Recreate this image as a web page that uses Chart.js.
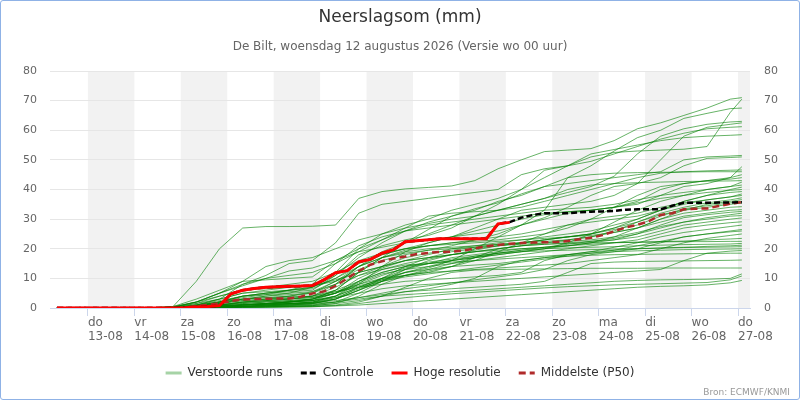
<!DOCTYPE html>
<html>
<head>
<meta charset="utf-8">
<script src="https://cdn.jsdelivr.net/npm/chart.js@4.4.1/dist/chart.umd.min.js"></script>
<style>
body{margin:0;background:#fff;}
#wrap{position:relative;width:800px;height:400px;}
#rand{position:absolute;left:0;top:0;width:800px;height:400px;box-sizing:border-box;border:1px solid #8fb2e6;border-radius:3px;pointer-events:none;}
</style>
</head>
<body>
<div id="wrap">
<canvas id="plume" width="800" height="400"></canvas>
<div id="rand"></div>
</div>
<script>
// uren sinds wo 12-08 00:00
const tickUren = [24,48,72,96,120,144,168,192,216,240,264,288,312,336,360];
const dagNamen = ["do","vr","za","zo","ma","di","wo","do","vr","za","zo","ma","di","wo","do"];
const datums = ["13-08","14-08","15-08","16-08","17-08","18-08","19-08","20-08","21-08","22-08","23-08","24-08","25-08","26-08","27-08"];

// tijdstappen verstoorde runs
const uren = [8,56,68,80,92,104,116,128,140,152,164,176,188,200,212,224,236,248,260,272,284,296,308,320,332,344,356,362];

// tijdstappen controle / hoge resolutie / middelste (6-uurlijks)
const uren6 = [8,14,20,26,32,38,44,50,56,62,68,74,80,86,92,98,104,110,116,122,128,134,140,146,152,158,164,170,176,182,188,194,200,206,212,218,224,230,236,242,248,254,260,266,272,278,284,290,296,302,308,314,320,326,332,338,344,350,356,362];

const hogeResolutie = [0,0,0,0,0,0,0,0,0,0,0,0.1,0.3,0.5,0.8,4.8,6.0,6.6,7.0,7.2,7.3,7.4,7.6,9.5,11.9,12.6,15.6,16.4,18.5,19.7,22.4,22.7,23.0,23.4,23.4,23.4,23.4,23.4,28.4,28.9];

const controle = [0,0,0,0,0,0,0,0,0,0,0,0.1,0.3,0.5,0.8,4.8,6.0,6.6,7.0,7.2,7.3,7.4,7.6,9.5,11.9,12.6,15.6,16.4,18.5,19.7,22.4,22.7,23.0,23.4,23.4,23.4,23.4,23.4,28.4,29.0,30.5,31.4,32.0,32.0,32.0,32.3,32.5,32.6,32.8,33.2,33.3,33.3,33.3,34.5,35.5,35.5,35.5,35.6,35.6,35.7];

const middelste = [0,0,0,0,0,0,0,0,0,0,0,0.2,0.6,1.1,1.6,2.4,2.9,3.0,3.1,3.2,3.2,3.8,4.9,5.6,7.5,10.0,12.5,14.6,15.8,16.7,17.4,18.2,18.6,18.9,19.0,19.4,20.1,20.8,21.3,21.7,21.9,22.1,22.2,22.3,22.6,23.2,23.7,24.6,25.9,27.2,28.1,29.3,31.4,32.0,33.3,33.5,33.6,34.4,35.2,35.7];

const verstoordeRuns = [
[0,0,0.5,9,20,27,27.5,27.5,27.6,28,37,39.3,40.2,40.7,41.2,43,47,50,52.8,53.3,53.8,56.5,60.5,62.5,65,67.5,70.5,71],
[0,0,0,0.5,2,4,5,6,7,12,20,25,28,30,33,35,37,40,44,48,51,52.5,53,53.3,53.6,54.5,66,70.5],
[0,0,0,0.3,1.5,3,4,5,7,11,17,22,26,29,31,33,36,38,41,44,48,53,57.5,60,64,65.7,67.3,67.5],
[0,0,0.2,2,5,9,14,16,17,20,23,25,27,28.5,30,31,33,35,37,39,41,44.5,52,58,60.5,62,62.8,63],
[0,0,0,0.5,1,2,2.5,3,4,8,14,18,20,22,24,27,30,33,34,35,36,38,42,50,58,61,62,62.5],
[0,0,0.3,2,5,8,11,15,16,22,32,35,36,37,38,39,40,45,47,48,49.5,52,54.5,57,59,60.5,61,61.2],
[0,0,0,0.5,2,4,5,5.5,6,11,18,21,23,24.5,27,31,35,40,46.5,48,52,53.5,55,56.5,57.5,58,58.3,58.5],
[0,0,0,0,0.5,1,1.5,2,3,6,12,17,22,26.5,31,33.5,35.5,38.5,41,42,43,44,45,46,50,51,51.3,51.5],
[0,0,0.2,1,3,8,10,12.5,13.5,16,19,20.5,22,23,24,25,26,28,30.5,34,38,41,42,44,48,50.5,50.8,51],
[0,0,0,0,0.5,1,1.2,1.5,2,4,8,14,19,22,24,26,28,30,31.5,32.5,33,34,35,38,41,42,44,47.7],
[0,0,0.5,3,6,9,9.5,10,10.5,16,20,23,27,31,32,32.5,33,34,36,38,40,42,44,45.5,46,46.3,46.5,46.6],
[0,0,0,0.2,1,2,3,4,5.5,9,13,16,18,19.5,21,23,25,28,33,44,45,45.5,45.7,45.8,45.9,46,46,46],
[0,0,0,0,0.2,0.5,0.7,1,1.5,3,7,10,12,13.5,16,20,24,28,30,32,33,34,36,40,42,43,44,45],
[0,0,0.3,1.5,4,6,7,8,9,12,16,18.5,20,21,22,22.5,23,24,25,27,30,34,38,41,42,43,43.5,44],
[0,0,0,0.5,1.5,3,4,4.5,5,8,14,19,22,25,28,31,33,35,37,40,41.5,42,42.3,42.5,42.7,42.8,42.9,43],
[0,0,0,0.3,0.8,1.5,2,2.5,3,5,9,12,14,15,16,17,18,19,20,22,25,29,33,36,38,40,41,42.5],
[0,0,0.3,2,5,7.5,10,11,12,15,19,23,26,28,29,30,31,32,33,33.5,34,35,36.5,38,39,40,41,41.5],
[0,0,0,0,0.5,1,1.5,2,2.5,5,10,13.5,16,18,20,21,22,23,24,25,26,28,30,33,36,38,40,40.8],
[0,0,0,1,2,3.5,4.5,6,8,15,21,24,26,27,28,29,30,31,32,32.5,33,34,35.5,37,38,39,39.7,40],
[0,0,0,0.2,0.5,1,1.5,2,3,6,12,17,19,20,20.5,21,21.5,22,23,24,25,27,30,33,36,38,39,39.3],
[0,0,0,0.5,2,4,5,6,7,10,14,17,19.5,21,22,23,24,25,26.5,28,29,30,31,33,35,36.5,37.5,38.5],
[0,0,0,0,0.3,0.6,1,1.2,1.5,3,6,9,11,12.5,14,16,19,22,25,28,30,31,32,34,35.5,36.5,37.5,38],
[0,0,0,1,3,5,6,7,7.5,9.5,12,14,16,17,18,19,20,21,22,23,24,26,29,32,34,35.5,36.5,37.2],
[0,0,0,0.3,1,2,2.5,3,4,7,11,14,17,18.5,19.5,20.5,21.5,22,22.5,23,24,25.5,27,30,33,35,36,36.6],
[0,0,0,0,0.2,0.5,1,1.5,2,4,9,13,15,16.5,18,19.5,21,22,23,24,25,26.5,28,31,33.5,34.5,35.5,36],
[0,0,0,0.8,2,3,3.5,4,5,9,14,17,18.5,19.5,20,20.5,21,22,23,24,25,27,29,31.5,33,34,35,35.4],
[0,0,0,0,0.5,1,1.5,2,2.5,4,7,10,13,15,17,18,19,20,20.5,21,22,24,27,30,32,33,34,34.2],
[0,0,0.2,1.5,3,5,5.5,6,6.5,10,15,18,20,21,21.5,22,22.5,23,23.5,24,24.5,25.5,27,29,31,32,33,33.2],
[0,0,0,0.2,0.6,1.2,1.5,2,3,5,8,11,13.5,15,16,17,18,19,20,21,22,23,25,28,30.5,31.5,32.3,32.6],
[0,0,0,0.5,1.5,2.5,3,3.5,4,6,9,12,14,15.5,16.5,17.5,18.5,19.5,20.5,21.5,22.5,23.5,25,27,29,30.5,31.5,32],
[0,0,0,0,0.2,0.5,0.8,1,1.5,3,6,10,14,17,19,20,21,21.5,22,22.5,23,24,25.5,27.5,29,30,31,31.2],
[0,0,0.5,2,4,6,6.5,7,7.5,9,12,14,16,17,18,19,20,21,21.5,22,22.5,23,24,26,28,29,30,30.4],
[0,0,0,0.3,1,1.8,2.2,2.5,3,5,8.5,11.5,13,14,15,16,17,18,19,20,21,22,23,25,27,28,28.8,29.1],
[0,0,0,0,0.3,0.6,1,1.3,1.8,3.5,6.5,9.5,12,13,14,14.5,15,16,17,18,19,20.5,22,24,25.5,26.5,27.5,28],
[0,0,0,1,2.5,4,4.5,5,5.5,8,11,13,14.5,15,15.5,16,16.5,17,17.5,18,18.5,19,20,22,24,25,26,26.5],
[0,0,0,0.2,0.6,1,1.5,2,2.5,4,7,9,10.5,11.5,12.5,13.5,14.5,15.5,16.5,17.5,18.5,19.5,21,22.5,24,25,25.7,26],
[0,0,0,0.5,1,2,2.5,3,3.5,5.5,8,10,11,12,12.5,13,13.5,14,14.5,15,16,17,18,20,22,23.5,24.5,25],
[0,0,0,0,0.2,0.4,0.6,0.8,1,2,5,9,13,16,18,19,19.5,20,20.5,21,21.5,22,22.2,22.4,22.6,23,23.3,23.5],
[0,0,0,0.5,1.5,2.5,3,3.2,3.5,5,7.5,9.5,11,12,14,17,20,21,21.5,21.8,22,22.1,22.2,22.3,22.4,22.4,22.5,22.5],
[0,0,0,0,0,0.2,0.4,0.6,0.8,1.5,4,8,11,13,15,17,18.5,19.5,20,20.3,20.5,20.7,21,21.2,21.4,21.5,21.6,21.8],
[0,0,0,1,2,3,3.5,3.8,4,5.5,7,8,9,9.5,10,10.5,11,12,16,18,19,19.5,20,20.3,20.5,20.8,21,21.2],
[0,0,0,0.2,0.5,1,1.2,1.5,2,3,6,9,12,14,16,17.5,18.5,19,19.3,19.5,19.7,19.9,20,20.2,20.4,20.5,20.6,20.7],
[0,0,0,0,0.3,0.6,0.8,1,1.2,2,3.5,5,6.5,7.5,8.5,9.5,10.5,11.5,13,16,18,19,19.3,19.5,19.7,19.8,19.9,20],
[0,0,0,0.3,1,1.5,2,2.2,2.5,3.5,5,6.5,7.5,8,8.5,9,9.5,10,10.5,11,11.5,12,12.5,13,16,18.5,19.2,19.4],
[0,0,0,0,0.2,0.4,0.5,0.6,0.8,1.5,2.5,4,5.5,6.5,8,10,14,16,17,17.5,17.8,18,18.1,18.2,18.3,18.4,18.5,18.5],
[0,0,0,0.2,0.6,1,1.3,1.5,1.8,2.5,3.5,4.5,5.5,6,6.5,7,7.5,8,9,12,15,15.5,15.7,15.8,15.9,16,16.1,16.2],
[0,0,0,0,0.2,0.3,0.4,0.5,0.6,1,2,4,7,10,12,12.8,13,13.1,13.2,13.3,13.4,13.4,13.4,13.5,13.5,13.5,13.5,13.5],
[0,0,0,0.3,0.8,1.2,1.4,1.5,1.6,2,3,4,4.5,5,5.5,6,6.5,7,7.5,8,8.5,9,9.3,9.5,9.6,9.7,10,11.5],
[0,0,0,0,0,0.1,0.2,0.3,0.4,0.8,1.5,2.5,3.5,4.2,4.8,5.3,5.8,6.3,6.8,7.2,7.5,7.8,8,8.2,8.4,8.6,9.5,10.8],
[0,0,0,0,0.1,0.2,0.3,0.4,0.5,0.7,1,1.5,2,2.5,3,3.5,4,4.5,5,5.5,6,6.5,7,7.3,7.5,7.8,8.5,9.3]
];

const legendaVolgorde = ["Verstoorde runs","Controle","Hoge resolutie","Middelste (P50)"];

const FONT = '"DejaVu Sans", sans-serif';
Chart.defaults.font.family = FONT;

function punten(tijden, waarden){
return waarden.map((v,i)=>({x:tijden[i], y:v}));
}

const stijl = {
"Verstoorde runs":{color:"rgba(0,128,0,0.6)", legend:"rgba(0,128,0,0.35)", width:1, legendWidth:3, dash:[]},
"Controle":{color:"#000000", legend:"#000000", width:2.5, legendWidth:3, dash:[6,3]},
"Hoge resolutie":{color:"#ff0000", legend:"#ff0000", width:3, legendWidth:3, dash:[]},
"Middelste (P50)":{color:"#b02a2a", legend:"#b02a2a", width:2.5, legendWidth:3, dash:[7,4]}
};

const datasets = [];

verstoordeRuns.forEach(run=>{
datasets.push({
label:"Verstoorde runs",
data:punten(uren, run),
borderColor:stijl["Verstoorde runs"].color,
borderWidth:1,
pointRadius:0,
order:3
});
});

datasets.push({
label:"Controle",
data:punten(uren6, controle),
borderColor:stijl["Controle"].color,
borderWidth:stijl["Controle"].width,
borderDash:stijl["Controle"].dash,
pointRadius:0,
order:1
});

datasets.push({
label:"Hoge resolutie",
data:punten(uren6, hogeResolutie),
borderColor:stijl["Hoge resolutie"].color,
borderWidth:stijl["Hoge resolutie"].width,
pointRadius:0,
order:0
});

datasets.push({
label:"Middelste (P50)",
data:punten(uren6, middelste),
borderColor:stijl["Middelste (P50)"].color,
borderWidth:stijl["Middelste (P50)"].width,
borderDash:stijl["Middelste (P50)"].dash,
pointRadius:0,
order:2
});

// grijze banden voor om en om een dag
const dagBanden = {
id:"dagBanden",
beforeDraw(chart){
const {ctx, chartArea, scales} = chart;
ctx.save();
ctx.fillStyle = "#f2f2f2";
tickUren.forEach((u,i)=>{
if(i % 2 !== 0) return;
const x1 = Math.max(scales.x.getPixelForValue(u), chartArea.left);
const x2 = Math.min(scales.x.getPixelForValue(u + 24), chartArea.right);
if(x2 > x1) ctx.fillRect(x1, chartArea.top, x2 - x1, chartArea.bottom - chartArea.top);
});
ctx.restore();
}
};

const bron = {
id:"bron",
afterDraw(chart){
const ctx = chart.ctx;
ctx.save();
ctx.font = "9px " + FONT;
ctx.fillStyle = "#999999";
ctx.textAlign = "right";
ctx.textBaseline = "alphabetic";
ctx.fillText("Bron: ECMWF/KNMI", 790, 395);
ctx.restore();
}
};

new Chart(
document.getElementById("plume"),
{
type:"line",
data:{datasets},
plugins:[dagBanden, bron],
options:{
responsive:false,
devicePixelRatio:1,
animation:false,
events:[],
layout:{padding:{top:0,left:0,right:0,bottom:11}},
elements:{line:{tension:0}},
scales:{
x:{
type:"linear",
min:4.4,
max:366.2,
afterBuildTicks(scale){
scale.ticks = tickUren.map(v=>({value:v}));
},
afterFit(scale){ scale.height = 41; },
grid:{drawOnChartArea:false, color:"#ccd6eb", tickLength:8},
border:{color:"#ccd6eb"},
ticks:{
autoSkip:false,
maxRotation:0,
align:"start",
padding:0,
color:"#666666",
font:{size:12, lineHeight:1.17},
callback(value){
const i = tickUren.indexOf(value);
return i < 0 ? "" : [dagNamen[i], datums[i]];
}
}
},
y:{
position:"left",
min:0,
max:80,
afterFit(scale){ scale.width = 50; },
grid:{color:"#e6e6e6", drawTicks:false},
border:{display:false},
ticks:{stepSize:10, padding:13, color:"#666666", font:{size:11}}
},
y2:{
position:"right",
min:0,
max:80,
afterFit(scale){ scale.width = 50; },
grid:{display:false, drawTicks:false},
border:{display:false},
ticks:{stepSize:10, padding:14, color:"#666666", font:{size:11}}
}
},
plugins:{
tooltip:{enabled:false},
title:{
display:true,
text:"Neerslagsom (mm)",
color:"#333333",
font:{size:17, weight:"normal"},
padding:{top:7.8, bottom:11.4}
},
subtitle:{
display:true,
text:"De Bilt, woensdag 12 augustus 2026 (Versie wo 00 uur)",
color:"#666666",
font:{size:12},
padding:{top:0, bottom:17}
},
legend:{
position:"bottom",
labels:{
usePointStyle:true,
pointStyleWidth:16,
padding:18,
color:"#333333",
font:{size:12},
generateLabels(chart){
return legendaVolgorde.map(naam=>({
text:naam,
strokeStyle:stijl[naam].legend,
fillStyle:stijl[naam].legend,
lineWidth:stijl[naam].legendWidth,
lineDash:stijl[naam].dash,
pointStyle:"line",
hidden:false,
fontColor:"#333333",
datasetIndex:chart.data.datasets.findIndex(d=>d.label===naam)
}));
}
}
}
}
}
}
);
</script>
</body>
</html>
